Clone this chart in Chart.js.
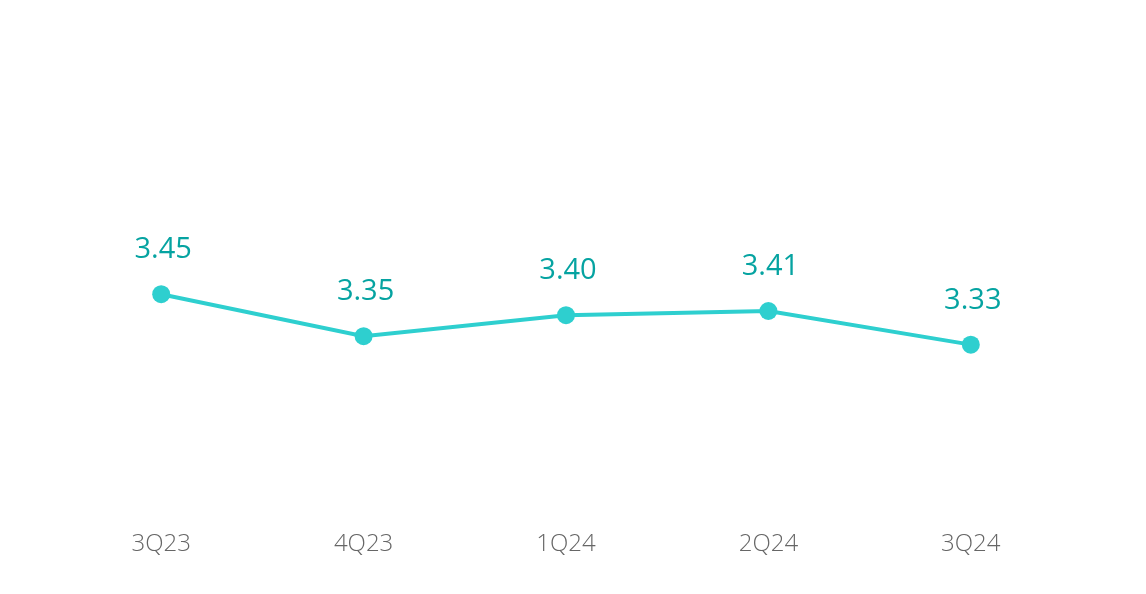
<!DOCTYPE html>
<html>
<head>
<meta charset="utf-8">
<script src="https://cdn.jsdelivr.net/npm/chart.js@4"></script>
<style>
  html, body { margin: 0; padding: 0; background: #fff; }
  #wrap { width: 1146px; height: 594px; }
</style>
</head>
<body>
<div id="wrap"><canvas id="chart" width="1146" height="594"></canvas></div>
<script>
// datos del gráfico
const quarters = ['3Q23', '4Q23', '1Q24', '2Q24', '3Q24'];
const values = [3.45, 3.35, 3.40, 3.41, 3.33];

const lineColor = '#2ecfcf';
const labelColor = '#05a3a1';

// etiquetas de valor encima de cada punto
const valueLabels = {
  id: 'valueLabels',
  afterDatasetsDraw(chart) {
    const ctx = chart.ctx;
    const meta = chart.getDatasetMeta(0);
    ctx.save();
    ctx.fillStyle = labelColor;
    ctx.font = '500 29px "Open Sans", "Noto Sans", sans-serif';
    ctx.textAlign = 'center';
    ctx.textBaseline = 'middle';
    meta.data.forEach((pt, i) => {
      ctx.fillText(values[i].toFixed(2), pt.x + 2, pt.y - 44);
    });
    ctx.restore();
  }
};

new Chart(document.getElementById('chart').getContext('2d'), {
  type: 'line',
  data: {
    labels: quarters,
    datasets: [{
      data: values,
      borderColor: lineColor,
      backgroundColor: lineColor,
      borderWidth: 4,
      pointRadius: 9,
      pointHoverRadius: 9,
      pointBackgroundColor: lineColor,
      pointBorderWidth: 0,
      tension: 0
    }]
  },
  options: {
    responsive: false,
    animation: false,
    layout: { padding: { left: 60, right: 74, top: 20, bottom: 29 } },
    plugins: { legend: { display: false }, tooltip: { enabled: false } },
    scales: {
      x: {
        offset: true,
        grid: { display: false },
        border: { display: false },
        ticks: {
          color: '#666',
          padding: 6,
          font: { family: '"Open Sans", "Noto Sans", sans-serif', size: 24, weight: '300' }
        }
      },
      y: {
        display: false,
        min: 2.922,
        max: 4.102
      }
    }
  },
  plugins: [valueLabels]
});
</script>
</body>
</html>
